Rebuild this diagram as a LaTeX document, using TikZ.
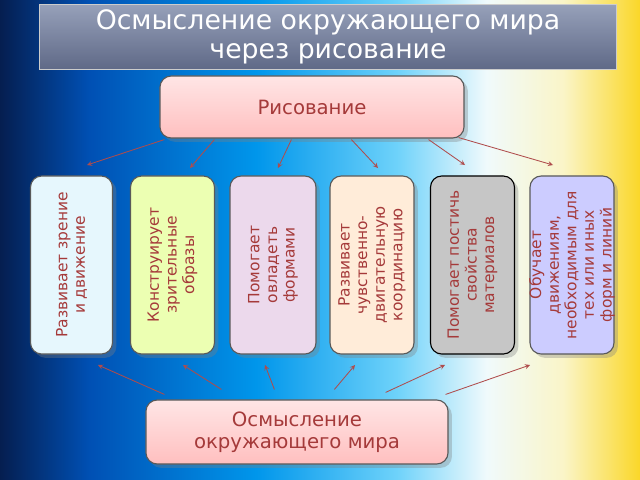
\documentclass[tikz,border=0pt]{standalone}
\usepackage{fontspec}
\setmainfont{DejaVu Sans}
\usetikzlibrary{shadows,calc}
\definecolor{bgA}{RGB}{5,30,80}
\definecolor{bgB}{RGB}{0,80,180}
\definecolor{bgC}{RGB}{0,150,235}
\definecolor{bgD}{RGB}{110,210,250}
\definecolor{bgE}{RGB}{240,250,252}
\definecolor{bgF}{RGB}{250,245,200}
\definecolor{bgG}{RGB}{250,215,40}
\pgfdeclarehorizontalshading{bgshade}{100bp}{color(0bp)=(bgA); color(25bp)=(bgA); color(32bp)=(bgB); color(45bp)=(bgC); color(56bp)=(bgD); color(63bp)=(bgE); color(69bp)=(bgF); color(75bp)=(bgG); color(100bp)=(bgG)}
\definecolor{txt}{HTML}{A53A3A}
\definecolor{ttlA}{RGB}{150,160,185}
\definecolor{ttlB}{RGB}{95,105,135}
\tikzset{
  pnl/.style = {rounded corners=8pt, draw=gray!70!black, line width=0.8pt,
                drop shadow={opacity=0.35}},
  vtext/.style = {rotate=90, align=center, text=txt, font=\fontsize{11}{12.5}\selectfont},
  link/.style = {->, >=stealth, draw=red!55!black!70, line width=0.6pt}
}
\begin{document}
\begin{tikzpicture}[x=0.025cm, y=-0.025cm]
	\useasboundingbox (0,0) rectangle (640,480);
	\shade[shading=bgshade] (0,0) rectangle (640,480);

	% Title
	\node[draw=gray!40, line width=0.8pt, top color=ttlA, bottom color=ttlB,
	      minimum width=14.4cm, minimum height=1.45cm, text=white, align=center,
	      font=\fontsize{19}{21}\selectfont] (title) at (328,37) {Осмысление окружающего мира\\через рисование};

	% Main boxes
	\node[pnl, top color=white!90!red, bottom color=red!25, minimum width=7.6cm, minimum height=1.55cm,
	      text=txt, font=\fontsize{14}{16}\selectfont] (draw) at (312,107) {Рисование};
	\node[pnl, top color=white!90!red, bottom color=red!25, minimum width=7.55cm, minimum height=1.6cm,
	      text=txt, align=center, font=\fontsize{14}{16}\selectfont] (mind) at (297,432) {Осмысление\\окружающего мира};

	% Panels
	\node[pnl, fill=cyan!10, minimum width=2.05cm, minimum height=4.45cm] (p1) at (71.5,265) {};
	\node[pnl, fill=lime!30, minimum width=2.1cm, minimum height=4.45cm] (p2) at (172.5,265) {};
	\node[pnl, fill=violet!15, minimum width=2.15cm, minimum height=4.45cm] (p3) at (273,265) {};
	\node[pnl, fill=orange!15, minimum width=2.1cm, minimum height=4.45cm] (p4) at (372,265) {};
	\node[pnl, fill=gray!45, draw=black, minimum width=2.1cm, minimum height=4.45cm] (p5) at (472.5,265) {};
	\node[pnl, fill=blue!20, minimum width=2.1cm, minimum height=4.45cm] (p6) at (572,265) {};

	\node[vtext] (t1) at (p1) {Развивает зрение\\и движение};
	\node[vtext] (t2) at (p2) {Конструирует\\зрительные\\образы};
	\node[vtext] (t3) at (p3) {Помогает\\овладеть\\формами};
	\node[vtext] (t4) at (p4) {Развивает\\чувственно-\\двигательную\\координацию};
	\node[vtext] (t5) at (p5) {Помогает постичь\\свойства\\материалов};
	\node[vtext] (t6) at (p6) {Обучает\\движениям,\\необходимым для\\тех или иных\\форм и линий};

	% Arrows
	\coordinate (a1) at (87,165);  \coordinate (a2) at (190,168);
	\coordinate (a3) at (278,168); \coordinate (a4) at (378,168);
	\coordinate (a5) at (465,165); \coordinate (a6) at (553,165);
	\draw[link] ($(draw.south west)+(5,1)$) -- (a1);
	\draw[link] ($(draw.south west)+(55,1)$) -- (a2);
	\draw[link] ($(draw.south west)+(132,1)$) -- (a3);
	\draw[link] ($(draw.south west)+(192,1)$) -- (a4);
	\draw[link] ($(draw.south east)+(-36,1)$) -- (a5);
	\draw[link] ($(draw.south east)+(-6,-1)$) -- (a6);

	\coordinate (b1) at (98,365);  \coordinate (b2) at (183,365);
	\coordinate (b3) at (265,365); \coordinate (b4) at (355,365);
	\coordinate (b5) at (445,365); \coordinate (b6) at (530,365);
	\draw[link] ($(mind.north west)+(19,-5)$) -- (b1);
	\draw[link] ($(mind.north west)+(76,-10)$) -- (b2);
	\draw[link] ($(mind.north west)+(129,-10)$) -- (b3);
	\draw[link] ($(mind.north west)+(189,-10)$) -- (b4);
	\draw[link] ($(mind.north east)+(-63,-7)$) -- (b5);
	\draw[link] ($(mind.north east)+(-3,-5)$) -- (b6);
\end{tikzpicture}
\end{document}
